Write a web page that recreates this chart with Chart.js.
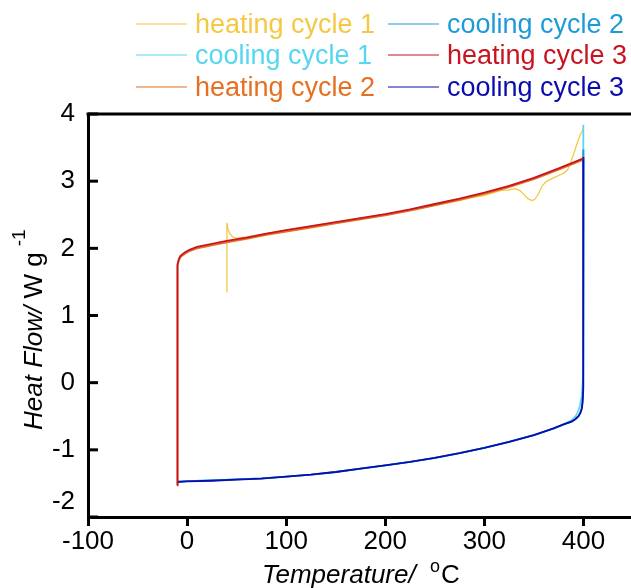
<!DOCTYPE html>
<html><head><meta charset="utf-8">
<script src="https://cdn.jsdelivr.net/npm/chart.js@4.4.1/dist/chart.umd.min.js"></script>
<style>html,body{margin:0;padding:0;background:#fff;overflow:hidden}</style>
</head><body>
<canvas id="c" width="631" height="588"></canvas>
<script>
// ---- data ----
const seriesLabels = ['heating cycle 1','cooling cycle 1','heating cycle 2','cooling cycle 2','heating cycle 3','cooling cycle 3'];
const seriesColors = ['#F5C843','#55D7EE','#E6701F','#1D9BD8','#C8141E','#0C0CAE'];
const xTickValues = [-100, 0, 100, 200, 300, 400];
const yTickValues = [-2, -1, 0, 1, 2, 3, 4];

const heating1T  = [40, 40.2, 41, 43, 46, 50, 60, 80, 100, 125, 150, 175, 200, 225, 250, 275, 286, 300, 316, 325, 331, 336, 340, 344, 348, 351, 355, 358, 362, 367, 373, 380, 384, 387, 390, 394, 397, 400];
const heating1HF = [1.35, 2.38, 2.3, 2.22, 2.17, 2.15, 2.17, 2.22, 2.27, 2.33, 2.39, 2.45, 2.51, 2.57, 2.64, 2.71, 2.75, 2.79, 2.86, 2.87, 2.89, 2.86, 2.8, 2.74, 2.71, 2.73, 2.82, 2.92, 2.99, 3.03, 3.07, 3.12, 3.17, 3.27, 3.4, 3.58, 3.7, 3.78];

const cooling1T  = [400, 400, 399.6, 399, 398, 396.5, 394.5, 392, 388, 380, 370, 350, 325, 300, 275, 250, 225, 200, 175, 150, 125, 100, 75, 50, 25, 0, -10];
const cooling1HF = [3.84, 1.0, 0.3, -0.05, -0.22, -0.34, -0.43, -0.5, -0.56, -0.62, -0.68, -0.78, -0.88, -0.97, -1.05, -1.12, -1.18, -1.23, -1.28, -1.33, -1.37, -1.4, -1.425, -1.44, -1.455, -1.465, -1.47];

const heating2T  = [-10, -10, -9.7, -9.3, -8.7, -8, -7, -5, -2, 0, 3, 10, 20, 40, 60, 80, 100, 125, 150, 175, 200, 225, 250, 275, 300, 325, 350, 375, 400];
const heating2HF = [-1.52, 1.5, 1.65, 1.74, 1.8, 1.83, 1.86, 1.89, 1.92, 1.94, 1.96, 2.0, 2.03, 2.09, 2.14, 2.2, 2.25, 2.31, 2.37, 2.43, 2.49, 2.56, 2.64, 2.72, 2.81, 2.91, 3.03, 3.17, 3.32];

const cooling2T  = [400, 400, 399.6, 399.2, 398.5, 397, 395, 392, 388, 380, 370, 350, 325, 300, 275, 250, 225, 200, 175, 150, 125, 100, 75, 50, 25, 0, -10];
const cooling2HF = [3.47, 1.0, -0.05, -0.25, -0.36, -0.44, -0.5, -0.54, -0.58, -0.62, -0.68, -0.78, -0.88, -0.97, -1.05, -1.12, -1.18, -1.23, -1.28, -1.33, -1.37, -1.4, -1.425, -1.44, -1.455, -1.465, -1.475];

const heating3T  = [-10, -10, -9.7, -9.3, -8.7, -8, -7, -5, -2, 0, 3, 10, 20, 40, 60, 80, 100, 125, 150, 175, 200, 225, 250, 275, 300, 325, 350, 375, 400];
const heating3HF = [-1.53, 1.55, 1.68, 1.76, 1.82, 1.85, 1.88, 1.91, 1.94, 1.96, 1.98, 2.02, 2.05, 2.11, 2.16, 2.22, 2.27, 2.33, 2.39, 2.45, 2.51, 2.58, 2.66, 2.74, 2.83, 2.93, 3.05, 3.19, 3.34];

const cooling3T  = [400, 400, 399.6, 399.2, 398.5, 397, 395, 392, 388, 380, 370, 350, 325, 300, 275, 250, 225, 200, 175, 150, 125, 100, 75, 50, 25, 0, -10];
const cooling3HF = [3.36, 1.0, -0.1, -0.28, -0.38, -0.45, -0.5, -0.54, -0.58, -0.62, -0.68, -0.78, -0.88, -0.97, -1.05, -1.12, -1.18, -1.23, -1.28, -1.33, -1.37, -1.4, -1.43, -1.445, -1.46, -1.47, -1.48];

const seriesT  = [heating1T, cooling1T, heating2T, cooling2T, heating3T, cooling3T];
const seriesHF = [heating1HF, cooling1HF, heating2HF, cooling2HF, heating3HF, cooling3HF];
const seriesWidth = [1.3, 1.6, 1.8, 1.8, 1.8, 1.8];
const seriesOrder = [5, 4, 3, 2, 0, 1];

const FONT = "'Liberation Sans', Arial, sans-serif";

const datasets = seriesLabels.map((lab, i) => ({
  label: lab,
  data: seriesT[i].map((t, k) => ({x: t, y: seriesHF[i][k]})),
  borderColor: seriesColors[i],
  backgroundColor: seriesColors[i],
  borderWidth: seriesWidth[i],
  showLine: true,
  pointRadius: 0,
  tension: 0,
  order: seriesOrder[i]
}));

const decorPlugin = {
  id: 'decor',
  afterDraw(chart) {
    const {ctx, chartArea: a, scales: {x, y}} = chart;
    ctx.save();
    // top frame line
    ctx.strokeStyle = '#000';
    ctx.lineWidth = 3;
    ctx.beginPath();
    ctx.moveTo(a.left - 1.5, a.top);
    ctx.lineTo(a.right, a.top);
    ctx.stroke();
    // inward y ticks
    y.ticks.forEach(t => {
      const p = y.getPixelForValue(t.value);
      ctx.beginPath();
      ctx.moveTo(a.left, p);
      ctx.lineTo(a.left + 10, p);
      ctx.stroke();
    });
    // legend
    const cols = [{lx: 136, tx: 195}, {lx: 388, tx: 447}];
    const rows = [33, 64, 96];
    ctx.font = '27px ' + FONT;
    ctx.textBaseline = 'alphabetic';
    ctx.textAlign = 'left';
    chart.data.datasets.forEach((ds, i) => {
      const c = cols[Math.floor(i / 3)], b = rows[i % 3];
      ctx.strokeStyle = ds.borderColor;
      ctx.lineWidth = 1.2;
      ctx.beginPath();
      ctx.moveTo(c.lx, b - 9);
      ctx.lineTo(c.lx + 51, b - 9);
      ctx.stroke();
      ctx.fillStyle = ds.borderColor;
      ctx.fillText(ds.label, c.tx, b);
    });
    // x axis title
    ctx.fillStyle = '#000';
    ctx.font = 'italic 26px ' + FONT;
    ctx.fillText('Temperature/', 262, 583);
    ctx.font = '18px ' + FONT;
    ctx.fillText('o', 430, 572);
    ctx.font = '26px ' + FONT;
    ctx.fillText('C', 441, 583);
    // y axis title
    ctx.translate(42, 430);
    ctx.rotate(-Math.PI / 2);
    ctx.font = 'italic 26px ' + FONT;
    let yp = 0;
    ctx.fillText('Heat Flow/', yp, 0);
    yp += ctx.measureText('Heat Flow/ ').width;
    ctx.font = '26px ' + FONT;
    ctx.fillText('W g', yp, 0);
    yp += ctx.measureText('W g').width;
    ctx.font = '19px ' + FONT;
    ctx.fillText('-1', yp + 6, -17);
    ctx.restore();
  }
};

new Chart(document.getElementById('c'), {
  type: 'scatter',
  data: {datasets},
  options: {
    responsive: false,
    animation: false,
    devicePixelRatio: 1,
    layout: {padding: {top: 114, left: 0, right: 0, bottom: 0}},
    plugins: {legend: {display: false}, tooltip: {enabled: false}},
    scales: {
      x: {
        type: 'linear', min: -100, max: 448,
        afterBuildTicks: s => { s.ticks = xTickValues.map(v => ({value: v})); },
        afterFit: s => { s.height = 71; },
        grid: {display: true, drawOnChartArea: false, drawTicks: true, tickLength: 9, lineWidth: 3, color: '#000'},
        border: {display: true, width: 3, color: '#000'},
        ticks: {color: '#000', font: {family: FONT, size: 26}, padding: 0, maxRotation: 0, autoSkip: false}
      },
      y: {
        type: 'linear', min: -2, max: 4,
        afterBuildTicks: s => { s.ticks = yTickValues.map(v => ({value: v})); },
        afterFit: s => { s.width = 88; },
        grid: {display: false, drawTicks: false},
        border: {display: true, width: 3, color: '#000'},
        ticks: {color: '#000', font: {family: FONT, size: 26}, padding: 13,
          callback: v => v === -2 ? ['-2', ''] : String(v)}
      }
    }
  },
  plugins: [decorPlugin]
});
</script>
</body></html>
